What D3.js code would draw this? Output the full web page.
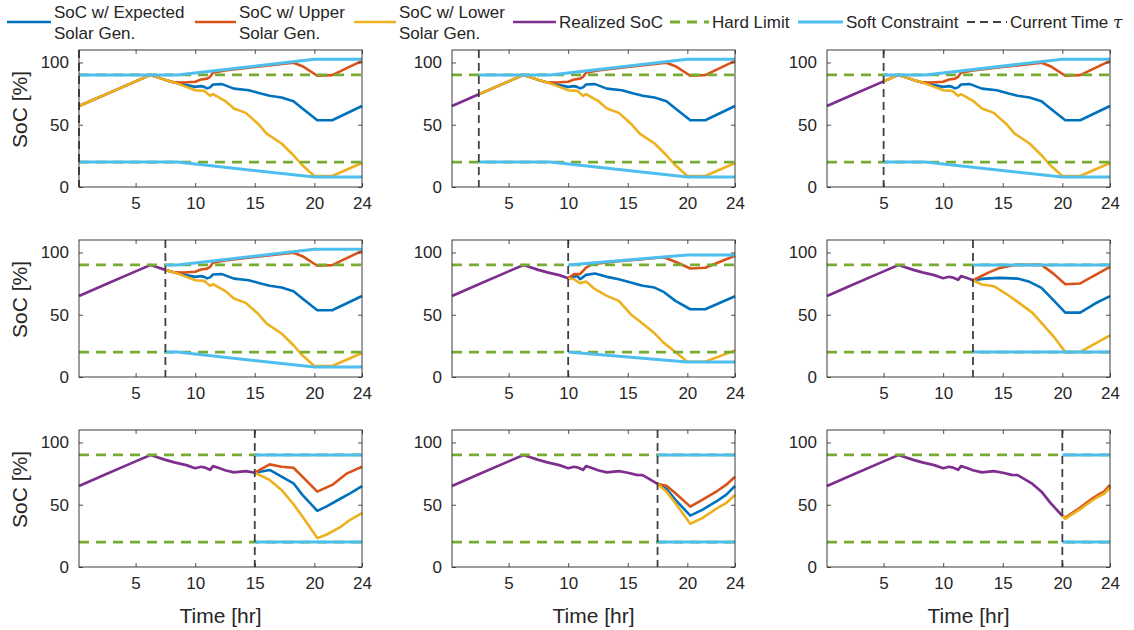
<!DOCTYPE html>
<html>
<head>
<meta charset="utf-8">
<script src="https://cdn.jsdelivr.net/npm/d3@7"></script>
<style>
  body { margin: 0; background: #fff; }
  svg { display: block; font-family: "Liberation Sans", Arial, sans-serif; }
</style>
</head>
<body>
<div id="chart"></div>
<script>
// ---- data ----
const tauHours = [0.25, 2.5, 5, 7.5, 10, 12.5, 15, 17.5, 20];
const panelStage = ["A", "A", "A", "A", "B", "C", "D", "E", "F"];
const xTicks = [5, 10, 15, 20, 24];
const yTicks = [0, 50, 100];
const hardLimits = [20, 90];

const realizedSoC = [[0.25,65],[2.5,74.4],[5,84.8],[6.25,90],[7.5,86],[8.25,84],[9.25,81.8],[10,79.3],[10.5,80.5],[10.75,80],[11.25,78],[11.5,81],[12,79.5],[12.5,77.7],[13.25,76],[14.25,77],[15,75.7],[15.75,74],[16.25,73.8],[17.5,66.7],[18.25,60.5],[19,51.5],[20,41]];

const expA = [[0.25,65],[2.5,74.4],[5,84.8],[6.25,90],[7.5,86],[8.25,84],[9.25,81.8],[10,80.4],[10.5,81],[10.75,80.4],[11,79.2],[11.25,80],[11.5,82.3],[12.25,82.6],[13.25,79],[14.5,77.7],[15.5,75],[16.25,73.2],[17.25,71.8],[18.25,68.9],[19,63],[20.25,53.6],[21.5,53.6],[24,65]];
const upA = [[0.25,65],[2.5,74.4],[5,84.8],[6.25,90],[7.5,86],[8.25,84],[9,83.9],[10,84.5],[10.5,86.3],[11,87],[11.25,88.5],[11.5,91.7],[12.5,93.6],[15,96.3],[18.25,99.8],[19,97],[20.25,89.3],[21.5,89.8],[24,101.3]];
const lowA = [[0.25,65],[2.5,74.4],[5,84.8],[6.25,90],[7.5,86],[8.25,84],[9.25,80.4],[10,77.7],[10.75,77.2],[11.25,73.2],[11.5,74.5],[12.5,69.2],[13.25,63],[14.25,59.5],[15.25,51],[16,42.9],[17.25,34.9],[18.25,25.5],[19,17.4],[20,8.8],[21.5,8.8],[24,19.3]];

const expB = [[10,79.3],[10.75,81.2],[11,78.5],[11.5,82],[12.25,83.1],[13.25,80.4],[14.25,78.5],[15.25,75.9],[16.25,73.2],[17.25,71.8],[18,68.4],[19,61.1],[20.25,54.4],[21.5,54.4],[24,64.8]];
const upB = [[10,79.3],[10.5,82.6],[11,82.6],[11.5,87.9],[12,90.6],[14,92.8],[16,94.4],[18,96.2],[19,92.5],[20.25,87.1],[21.5,87.7],[24,97.3]];
const lowB = [[10,79.3],[10.5,78.5],[11,75.3],[11.5,76.7],[12.25,70.5],[13.25,65.1],[14.25,61.1],[15.25,50.4],[16.5,41],[17.25,35.1],[18,27.6],[19,20.1],[20,12.3],[21.5,12.3],[24,21.4]];

const expC = [[12.5,77.7],[13.5,79],[14.75,79.6],[16.25,79],[17.25,76.4],[18.25,71.6],[19.25,61.7],[20.25,51.7],[21.5,51.7],[22.75,59],[24,65]];
const upC = [[12.5,77.7],[13.75,83.6],[14.75,87.6],[16,90],[18.25,90],[19.25,83],[20.25,74.5],[21.5,75.1],[22.75,81.8],[24,88.5]];
const lowC = [[12.5,77.7],[13.25,74.3],[14.25,72.9],[15.25,67],[16.25,60.3],[17.5,51.5],[18.25,43.4],[19.25,32.7],[20.25,20],[21.5,20.2],[22.75,26.8],[24,33.5]];

const expD = [[15,75.7],[16.25,77.9],[17.25,72.5],[18.25,67.2],[19,57.9],[20.25,45.1],[21,48.5],[22.25,55.2],[23,59.2],[24,65]];
const upD = [[15,75.7],[16.25,82.4],[17.25,80.5],[18.25,79.7],[19,72.5],[20.25,60.5],[21.5,65.9],[22.75,75.2],[24,80.5]];
const lowD = [[15,75.7],[16.25,69.9],[17.25,61.9],[18.25,50.4],[19,40.5],[20.25,23.2],[21,25.9],[22.25,32.5],[23,37.9],[24,43.2]];

const expE = [[17.5,66.7],[18.25,62.7],[19,53.9],[20.25,41.3],[21.25,45.9],[22.5,53.1],[23.25,57.9],[24,65]];
const upE = [[17.5,66.7],[18.25,65.3],[19,59.2],[20.25,48.5],[21.25,53.9],[22.5,61],[23.25,65.9],[24,72.5]];
const lowE = [[17.5,66.7],[18.25,60.5],[19,51.2],[20.25,34.7],[21.25,39.2],[22.5,47.2],[23.25,51.2],[24,57.9]];

const expF = [[20,41],[20.25,39.2],[21.5,47],[22.5,54],[23,57],[23.5,59.5],[24,64.5]];
const upF = [[20,41],[20.25,39.6],[21.5,47.8],[22.5,55],[23,58],[23.5,60.5],[24,66]];
const lowF = [[20,41],[20.25,38.8],[21.5,46.4],[22.5,53.4],[23,56.4],[23.5,58.8],[24,63.6]];

const softUpA = [[0.25,90],[2.5,90],[5,90],[7.5,90],[8.5,90],[20,102.5],[24,102.5]];
const softLowA = [[0.25,20],[2.5,20],[5,20],[7.5,20],[8.5,20],[20,8],[24,8]];
const softUpB = [[10,90],[20,98],[24,98]];
const softLowB = [[10,20],[20,12],[24,12]];
const softUpLate = [[12.5,90],[15,90],[17.5,90],[20,90],[24,90]];
const softLowLate = [[12.5,20],[15,20],[17.5,20],[20,20],[24,20]];

const legendLabels = [["SoC w/ Expected", "Solar Gen."], ["SoC w/ Upper", "Solar Gen."], ["SoC w/ Lower", "Solar Gen."], ["Realized SoC"], ["Hard Limit"], ["Soft Constraint"], ["Current Time "]];

// lookup tables built from the arrays above
const stages = {
  A: {exp: expA, up: upA, low: lowA, sUp: softUpA, sLow: softLowA},
  B: {exp: expB, up: upB, low: lowB, sUp: softUpB, sLow: softLowB},
  C: {exp: expC, up: upC, low: lowC, sUp: softUpLate, sLow: softLowLate},
  D: {exp: expD, up: upD, low: lowD, sUp: softUpLate, sLow: softLowLate},
  E: {exp: expE, up: upE, low: lowE, sUp: softUpLate, sLow: softLowLate},
  F: {exp: expF, up: upF, low: lowF, sUp: softUpLate, sLow: softLowLate}
};

// ---- layout ----
const width = 1134, height = 630;
const colLeft = [79, 452, 827];
const rowTop = [50, 240, 430];
const pw = 283, ph = 137;

const col = {
  exp: "#0072BD", up: "#D95319", low: "#EDB120", real: "#7E2F8E",
  hard: "#77AC30", soft: "#4DBEEE", tau: "#404040", axis: "#262626"
};
const hardDash = "10,7", tauDash = "8,5";

const svg = d3.select("#chart").append("svg")
  .attr("width", width).attr("height", height);

tauHours.forEach((tau, i) => {
  const r = Math.floor(i / 3), c = i % 3;
  const g = svg.append("g").attr("transform", `translate(${colLeft[c]},${rowTop[r]})`);

  const x = d3.scaleLinear().domain([0.25, 24]).range([0, pw]);
  const y = d3.scaleLinear().domain([0, 110]).range([ph, 0]);
  const line = d3.line().x(d => x(d[0])).y(d => y(d[1]));

  const st = stages[panelStage[i]];
  const after = arr => arr.filter(d => d[0] >= tau);

  const draw = (data, color, w, dash) => {
    if (data.length < 2) return;
    g.append("path").datum(data)
      .attr("d", line)
      .attr("fill", "none")
      .attr("stroke", color)
      .attr("stroke-width", w)
      .attr("stroke-linejoin", "round")
      .attr("stroke-dasharray", dash || null);
  };

  draw(after(st.exp), col.exp, 2.6);
  draw(after(st.up), col.up, 2.6);
  draw(after(st.low), col.low, 2.6);
  draw(realizedSoC.filter(d => d[0] <= tau), col.real, 2.7);

  hardLimits.forEach(h => draw([[0.25, h], [24, h]], col.hard, 2.8, hardDash));

  draw(after(st.sUp), col.soft, 3);
  draw(after(st.sLow), col.soft, 3);

  g.append("line")
    .attr("x1", x(tau)).attr("x2", x(tau))
    .attr("y1", 0).attr("y2", ph)
    .attr("stroke", col.tau).attr("stroke-width", 1.8)
    .attr("stroke-dasharray", tauDash);

  // axes, MATLAB-like box with inward ticks
  const xb = g.append("g").attr("transform", `translate(0,${ph})`)
    .call(d3.axisBottom(x).tickValues(xTicks).tickSizeInner(-4).tickSizeOuter(0).tickPadding(10));
  const xt = g.append("g")
    .call(d3.axisTop(x).tickValues(xTicks).tickSizeInner(-4).tickSizeOuter(0).tickFormat(""));
  const yl = g.append("g")
    .call(d3.axisLeft(y).tickValues(yTicks).tickSizeInner(-4).tickSizeOuter(0).tickPadding(10));
  const yr = g.append("g").attr("transform", `translate(${pw},0)`)
    .call(d3.axisRight(y).tickValues(yTicks).tickSizeInner(-4).tickSizeOuter(0).tickFormat(""));

  [xb, xt, yl, yr].forEach(a => {
    a.select(".domain").remove();
    a.selectAll("line").attr("stroke", col.axis).attr("stroke-width", 0.8);
    a.selectAll("text").attr("fill", col.axis).attr("font-size", 17)
      .attr("font-family", "Liberation Sans, Arial, sans-serif");
  });

  g.append("rect").attr("width", pw).attr("height", ph)
    .attr("fill", "none").attr("stroke", col.axis).attr("stroke-width", 0.9);

  if (c === 0) {
    g.append("text")
      .attr("transform", `translate(-52,${ph / 2 - 9}) rotate(-90)`)
      .attr("text-anchor", "middle")
      .attr("font-size", 21).attr("fill", col.axis)
      .text("SoC [%]");
  }
  if (r === 2) {
    g.append("text")
      .attr("x", pw / 2).attr("y", ph + 56)
      .attr("text-anchor", "middle")
      .attr("font-size", 21).attr("fill", col.axis)
      .text("Time [hr]");
  }
});

// ---- legend ----
const legendSample = [[7, 51], [195, 236], [354, 396], [513, 556], [670, 709], [798, 843], [967, 1007]];
const legendStyle = [
  [col.exp, 2.6, null], [col.up, 2.6, null], [col.low, 2.6, null], [col.real, 2.7, null],
  [col.hard, 2.8, hardDash], [col.soft, 3, null], [col.tau, 1.8, tauDash]
];
const leg = svg.append("g");
legendLabels.forEach((lab, i) => {
  const [x0, x1] = legendSample[i];
  leg.append("line")
    .attr("x1", x0).attr("x2", x1).attr("y1", 22).attr("y2", 22)
    .attr("stroke", legendStyle[i][0]).attr("stroke-width", legendStyle[i][1])
    .attr("stroke-dasharray", legendStyle[i][2]);
  const t = leg.append("text").attr("x", x1 + 3).attr("font-size", 17).attr("fill", col.axis);
  if (lab.length === 2) {
    t.append("tspan").attr("x", x1 + 3).attr("y", 17.5).text(lab[0]);
    t.append("tspan").attr("x", x1 + 3).attr("y", 38.5).text(lab[1]);
  } else {
    t.attr("y", 28).text(lab[0]);
    if (i === legendLabels.length - 1) {
      t.append("tspan").attr("font-style", "italic").attr("font-family", "DejaVu Serif, serif").text("τ");
    }
  }
});
</script>
</body>
</html>
